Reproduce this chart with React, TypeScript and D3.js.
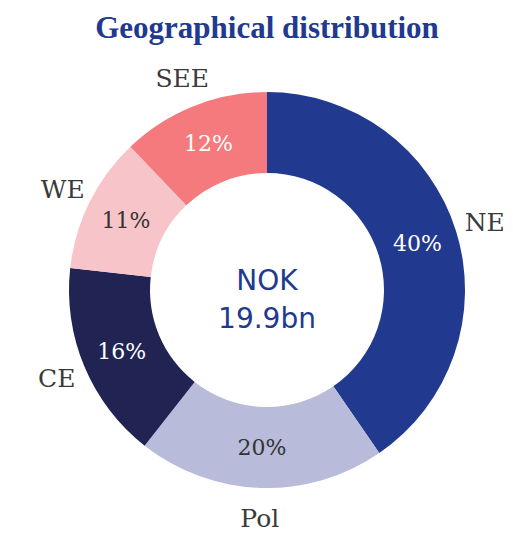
import { useEffect, useRef } from 'react';
import * as d3 from 'd3';

const regions = ['NE', 'Pol', 'CE', 'WE', 'SEE'];
const shares = [40, 20, 16, 11, 12];
const colors = ['#213a8f', '#b8bbd9', '#212453', '#f7c5c9', '#f47a7e'];
const labelColors = ['#ffffff', '#333333', '#ffffff', '#333333', '#ffffff'];
const centerLines = ['NOK', '19.9bn'];

export default function App() {
  const ref = useRef<SVGSVGElement>(null);

  useEffect(() => {
    if (!ref.current) return;
    const svg = d3.select(ref.current);
    svg.selectAll('*').remove();

    const width = 513;
    const height = 533;
    const cx = 267;
    const cy = 290;
    const outer = 198;
    const inner = 117;

    // title
    svg.append('text')
      .attr('x', cx)
      .attr('y', 38)
      .attr('text-anchor', 'middle')
      .attr('font-family', '"Liberation Serif", serif')
      .attr('font-weight', 'bold')
      .attr('font-size', 31)
      .attr('fill', '#213a8f')
      .text('Geographical distribution');

    const pie = d3.pie<number>().sort(null).value(d => d);
    const arcs = pie(shares);
    const arc = d3.arc<d3.PieArcDatum<number>>().innerRadius(inner).outerRadius(outer);
    const labelArc = d3.arc<d3.PieArcDatum<number>>().innerRadius(228).outerRadius(228);

    const g = svg.append('g').attr('transform', `translate(${cx},${cy})`);

    g.selectAll('.slice')
      .data(arcs)
      .enter()
      .append('path')
      .attr('d', arc)
      .attr('fill', (d, i) => colors[i]);

    // percentages
    g.selectAll('.pct')
      .data(arcs)
      .enter()
      .append('text')
      .attr('transform', d => `translate(${arc.centroid(d)})`)
      .attr('text-anchor', 'middle')
      .attr('dy', '0.35em')
      .attr('font-family', '"DejaVu Serif", serif')
      .attr('font-size', 22)
      .attr('fill', (d, i) => labelColors[i])
      .text(d => `${d.data}%`);

    // region names
    g.selectAll('.name')
      .data(arcs)
      .enter()
      .append('text')
      .attr('transform', d => `translate(${labelArc.centroid(d)})`)
      .attr('text-anchor', 'middle')
      .attr('dy', '0.35em')
      .attr('font-family', '"DejaVu Serif", serif')
      .attr('font-size', 25)
      .attr('fill', '#3a3a3a')
      .text((d, i) => regions[i]);

    // center label
    g.selectAll('.center')
      .data(centerLines)
      .enter()
      .append('text')
      .attr('x', 0)
      .attr('y', (d, i) => 0 + i * 38)
      .attr('text-anchor', 'middle')
      .attr('font-family', '"DejaVu Sans", sans-serif')
      .attr('font-size', 28)
      .attr('fill', '#213a8f')
      .text(d => d);

    svg.attr('width', width).attr('height', height);
  }, []);

  return (
    <div>
      <style>{'body{margin:0}'}</style>
      <svg ref={ref} width={513} height={533} style={{ display: 'block', background: '#fff' }} />
    </div>
  );
}
